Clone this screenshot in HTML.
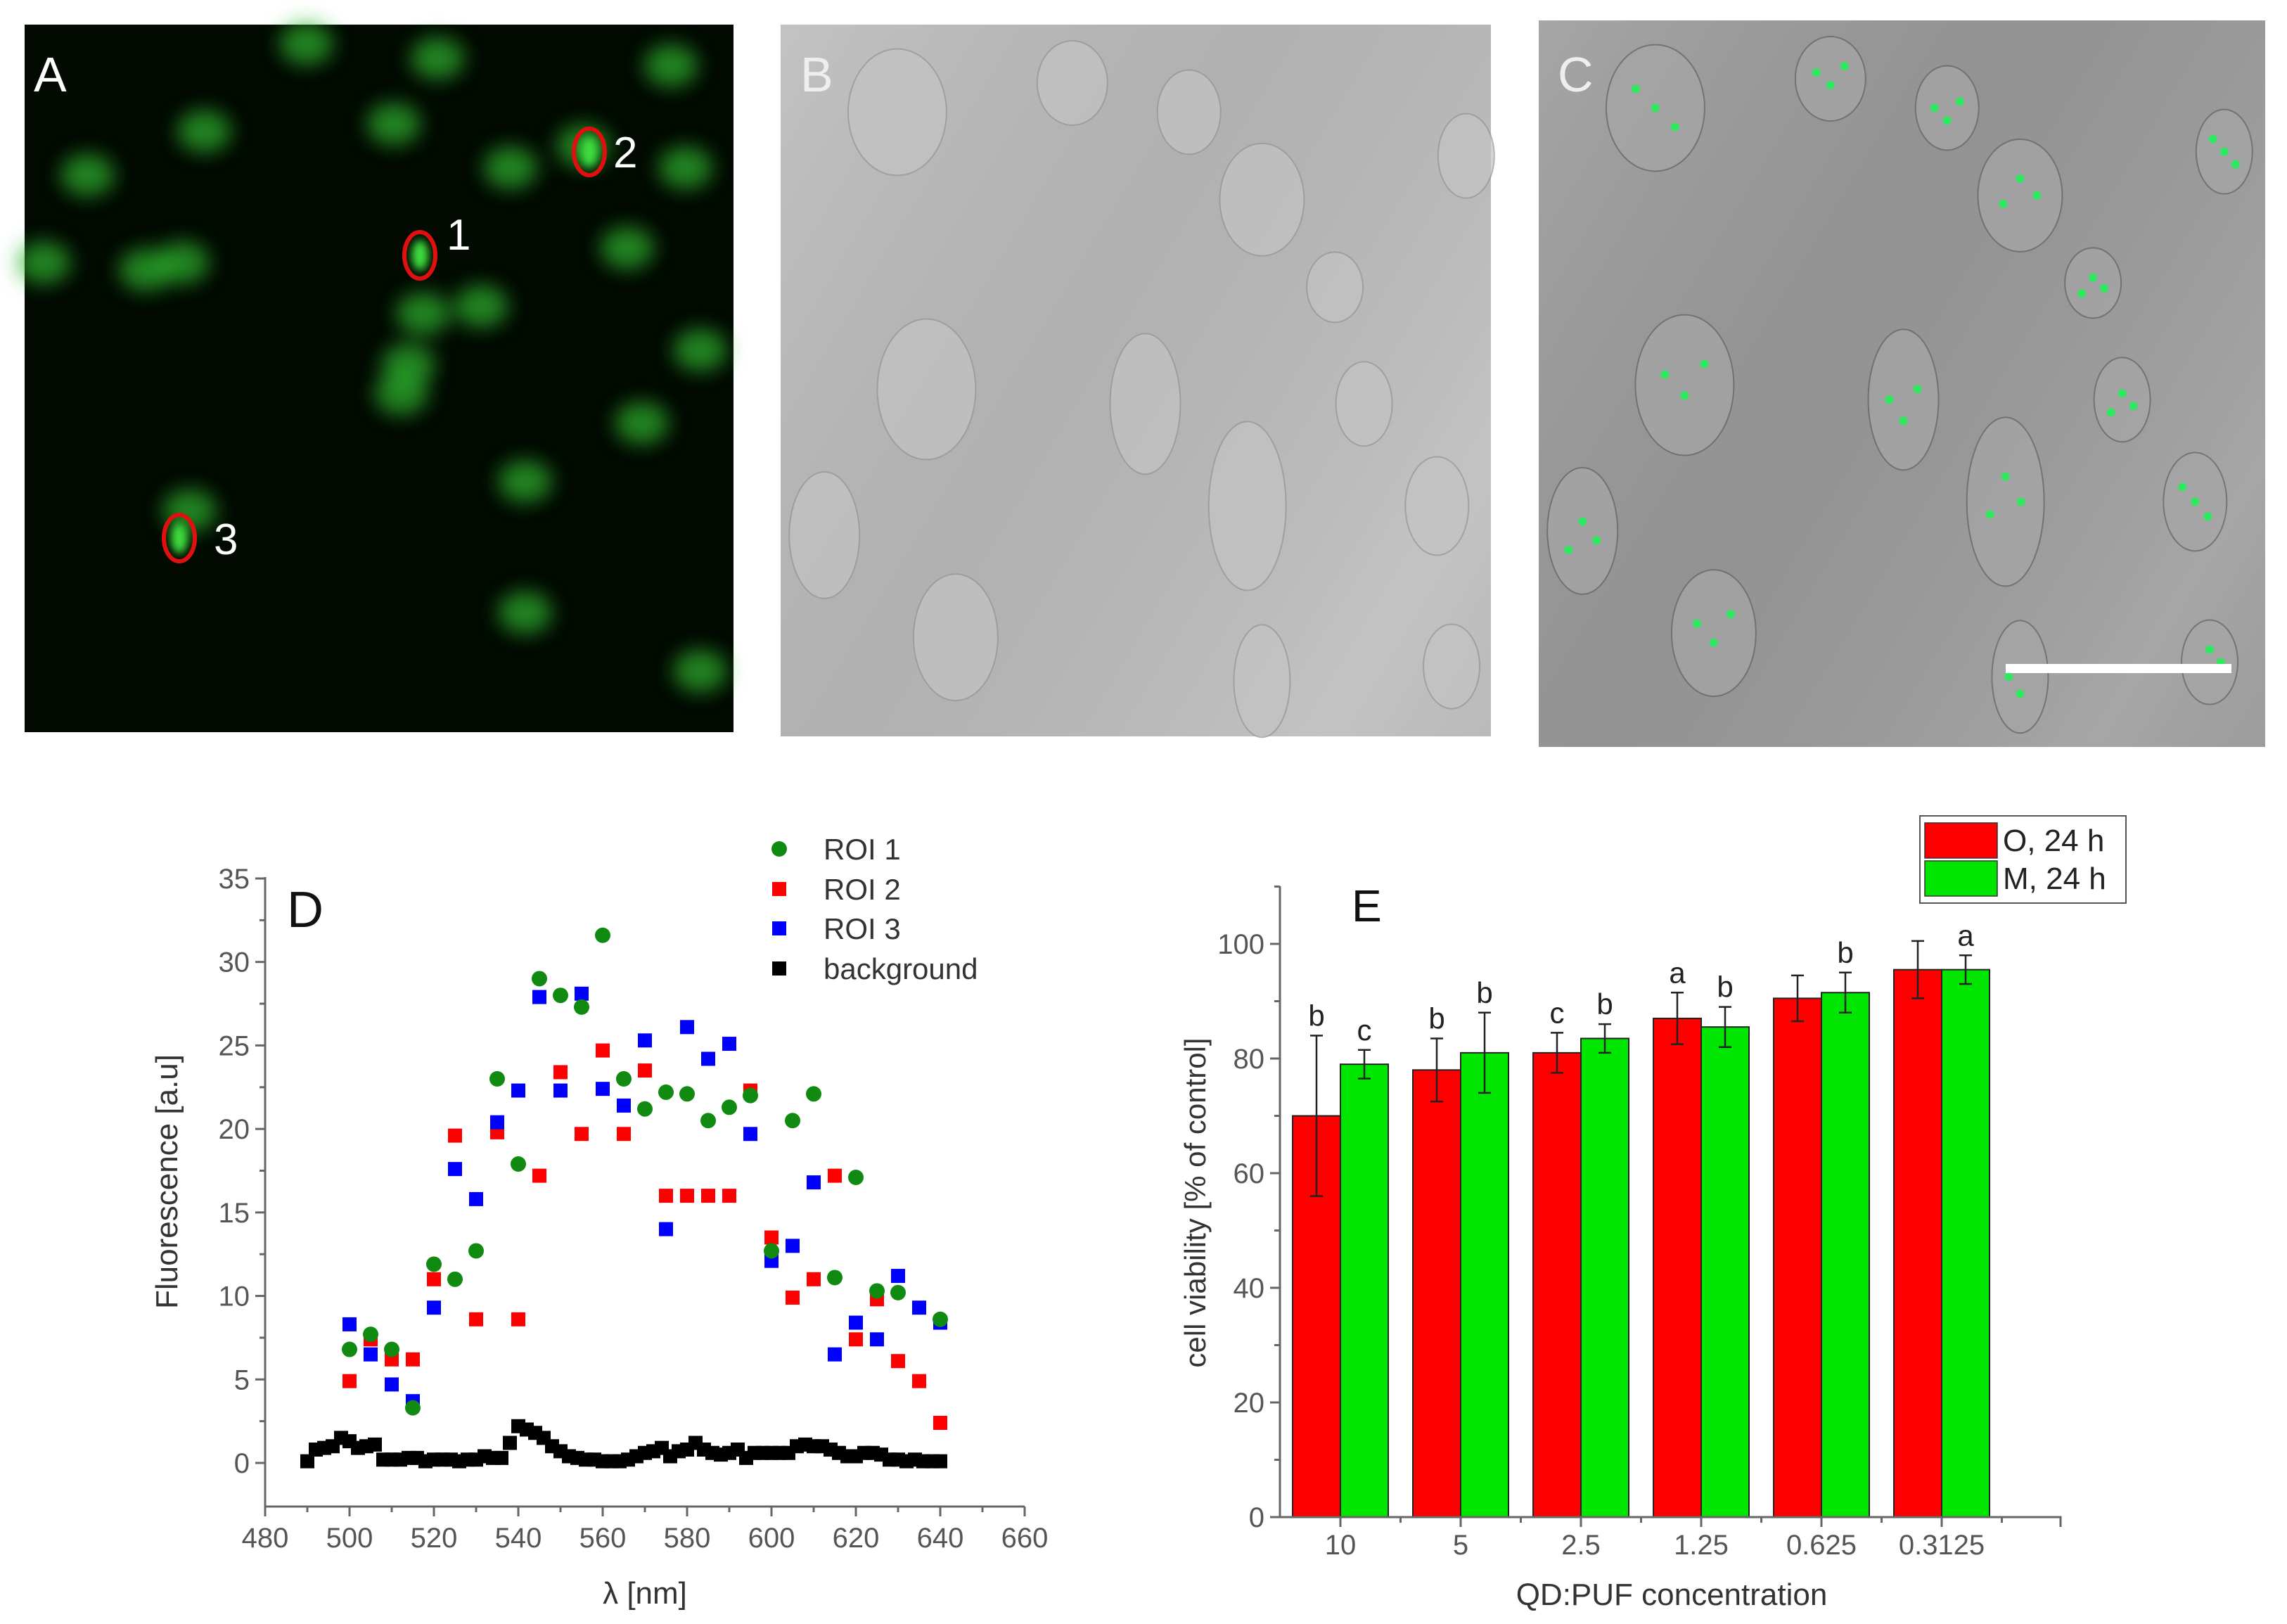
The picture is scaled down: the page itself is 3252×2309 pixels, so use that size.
<!DOCTYPE html>
<html><head><meta charset="utf-8"><style>
html,body{margin:0;padding:0;background:#fff}
svg{display:block}
text{font-family:"Liberation Sans",sans-serif}
</style></head><body>
<svg id="fig" width="3252" height="2309" viewBox="0 0 3252 2309" xmlns="http://www.w3.org/2000/svg">
<defs>
<filter id="blur" x="-50%" y="-50%" width="200%" height="200%"><feGaussianBlur stdDeviation="14"/></filter>
<filter id="blur2" x="-50%" y="-50%" width="200%" height="200%"><feGaussianBlur stdDeviation="6"/></filter>
<linearGradient id="stripes" x1="0" y1="0" x2="1" y2="0.6" spreadMethod="repeat">
<stop offset="0" stop-color="#fff" stop-opacity="0.10"/><stop offset="0.5" stop-color="#000" stop-opacity="0.06"/><stop offset="1" stop-color="#fff" stop-opacity="0.10"/></linearGradient>
</defs>
<g>
<rect x="35" y="35" width="1008" height="1006" fill="#020a02"/>
<g id="blobs" filter="url(#blur)"></g>
<g id="blobs2" filter="url(#blur2)"></g>
<text x="48" y="130" font-size="70" fill="#fff">A</text>
<ellipse cx="597" cy="363" rx="22" ry="33" fill="none" stroke="#e01010" stroke-width="6"/>
<ellipse cx="838" cy="216" rx="22" ry="33" fill="none" stroke="#e01010" stroke-width="6"/>
<ellipse cx="255" cy="765" rx="22" ry="33" fill="none" stroke="#e01010" stroke-width="6"/>
<text x="635" y="355" font-size="62" fill="#fff">1</text>
<text x="872" y="238" font-size="62" fill="#fff">2</text>
<text x="304" y="788" font-size="62" fill="#fff">3</text>
</g>
<g>
<rect x="1110" y="35" width="1010" height="1012" fill="#bcbcbc"/>
<rect x="1110" y="35" width="1010" height="1012" fill="url(#stripes)"/>
<g id="cellsB" fill="#c4c4c4" stroke="#959595" stroke-width="2" opacity="0.7"></g>
<text x="1138" y="130" font-size="70" fill="#eee">B</text>
</g>
<g>
<rect x="2188" y="29" width="1033" height="1033" fill="#9c9c9c"/>
<rect x="2188" y="29" width="1033" height="1033" fill="url(#stripes)"/>
<g id="cellsC" fill="#a6a6a6" stroke="#666" stroke-width="2" opacity="0.75"></g>
<g id="greenC" fill="#2ee860"></g>
<text x="2215" y="130" font-size="70" fill="#eee">C</text>
<rect x="2852" y="944" width="321" height="13" fill="#fff"/>
</g>
<g id="chartD"></g>
<g id="chartE"></g>
</svg>
<script>
const NS='http://www.w3.org/2000/svg';
function mk(tag,attrs,parent,txt){const e=document.createElementNS(NS,tag);for(const k in attrs)e.setAttribute(k,attrs[k]);if(txt!==undefined)e.textContent=txt;parent.appendChild(e);return e;}

const blobPts=[[140,90],[270,85],[350,115],[400,100],[460,45],[470,115],[30,180],[100,185],[125,180],[290,215],[330,210],[280,250],[275,270],[480,240],[430,170],[360,330],[440,290],[480,460],[360,420],[60,120],[210,30],[300,40],[130,350]];
const bg=document.getElementById('blobs');
blobPts.forEach(p=>{const c=mk('ellipse',{cx:p[0]*2.074,cy:p[1]*2.074,rx:38,ry:30,fill:'#2fb52f',opacity:0.7},bg);

});
const bg2=document.getElementById('blobs2');
[[288,175],[404,104],[123,369]].forEach(p=>{const c=mk('ellipse',{cx:p[0]*2.074,cy:p[1]*2.074,rx:12,ry:22,fill:'#3fe040'},bg2);

});
const cellPts=[[80,60,70,90],[200,40,50,60],[280,60,45,60],[330,120,60,80],[380,180,40,50],[470,90,40,60],[100,250,70,100],[250,260,50,100],[320,330,55,120],[400,260,40,60],[450,330,45,70],[120,420,60,90],[330,450,40,80],[460,440,40,60],[30,350,50,90]];
const cb=document.getElementById('cellsB'),cc=document.getElementById('cellsC'),gc=document.getElementById('greenC');
cellPts.forEach((p,i)=>{
 const b=mk('ellipse',{cx:1110+p[0]*2.074,cy:35+p[1]*2.074,rx:p[2],ry:p[3]},cb);
 
 
 const c=mk('ellipse',{cx:2188+p[0]*2.074,cy:29+p[1]*2.074,rx:p[2],ry:p[3]},cc);
 
 
 for(let k=0;k<3;k++){
  const g=mk('circle',{cx:2188+p[0]*2.074+(k-1)*p[2]*0.4,cy:29+p[1]*2.074+((k*7+i)%5-2)*p[3]*0.15,r:6},gc);
  
  
 }
});

// ---- Chart D data ----
const wl=[500,505,510,515,520,525,530,535,540,545,550,555,560,565,570,575,580,585,590,595,600,605,610,615,620,625,630,635,640];
const roi1=[6.8,7.7,6.8,3.3,11.9,11.0,12.7,23.0,17.9,29.0,28.0,27.3,31.6,23.0,21.2,22.2,22.1,20.5,21.3,22.0,12.7,20.5,22.1,11.1,17.1,10.3,10.2,null,8.6];
const roi2=[4.9,7.4,6.2,6.2,11.0,19.6,8.6,19.8,8.6,17.2,23.4,19.7,24.7,19.7,23.5,16.0,16.0,16.0,16.0,22.3,13.5,9.9,11.0,17.2,7.4,9.8,6.1,4.9,2.4];
const roi3=[8.3,6.5,4.7,3.7,9.3,17.6,15.8,20.4,22.3,27.9,22.3,28.1,22.4,21.4,25.3,14.0,26.1,24.2,25.1,19.7,12.1,13.0,16.8,6.5,8.4,7.4,11.2,9.3,8.4];
const bgWl=[490,492,494,496,498,500,502,504,506,508,510,512,514,516,518,520,522,524,526,528,530,532,534,536,538,540,542,544,546,548,550,552,554,556,558,560,562,564,566,568,570,572,574,576,578,580,582,584,586,588,590,592,594,596,598,600,602,604,606,608,610,612,614,616,618,620,622,624,626,628,630,632,634,636,638,640];
const bgVal=[0.1,0.8,0.9,1.0,1.5,1.3,0.9,1.0,1.1,0.2,0.2,0.2,0.3,0.3,0.1,0.2,0.2,0.2,0.1,0.2,0.2,0.4,0.3,0.3,1.2,2.2,2.0,1.8,1.5,1.0,0.7,0.4,0.3,0.2,0.2,0.1,0.1,0.1,0.2,0.4,0.6,0.7,0.9,0.4,0.7,0.8,1.2,0.8,0.6,0.5,0.6,0.8,0.3,0.6,0.6,0.6,0.6,0.6,1.0,1.1,1.0,1.0,0.8,0.6,0.4,0.4,0.6,0.6,0.5,0.2,0.2,0.1,0.2,0.1,0.1,0.1];
const dXTicks=[480,500,520,540,560,580,600,620,640,660];
const dYTicks=[0,5,10,15,20,25,30,35];
const dLegend=['ROI 1','ROI 2','ROI 3','background'];

(function(){
 const g=document.getElementById('chartD');
 const X0=377,X1=1457,Y35=1249,Y0=2080;
 const xs=v=>X0+(v-480)/180*(X1-X0);
 const ys=v=>Y0-(v/35)*(Y0-Y35);
 const yBot=2142;
 const ax=mk('path',{d:`M${X0},${Y35-2} V${yBot} H${X1}`,fill:'none',stroke:'#666','stroke-width':3},g);
 
 
 for(let v=480;v<=660;v+=10){const big=v%20===0;const t=mk('line',{x1:xs(v),x2:xs(v),y1:yBot,y2:yBot+(big?14:8),stroke:'#666','stroke-width':3},g);
  
  }
 dXTicks.forEach(v=>{const t=mk('text',{x:xs(v),y:2200,'font-size':40,fill:'#555','text-anchor':'middle'},g,String(v));
  
  });
 for(let v=0;v<=35;v+=2.5){const big=v%5===0;const t=mk('line',{x1:X0,x2:X0-(big?14:8),y1:ys(v),y2:ys(v),stroke:'#666','stroke-width':3},g);
  
  }
 dYTicks.forEach(v=>{const t=mk('text',{x:X0-22,y:ys(v)+14,'font-size':40,fill:'#555','text-anchor':'end'},g,String(v));
  
  });
 let t=mk('text',{x:917,y:2280,'font-size':44,fill:'#333','text-anchor':'middle'},g,'λ [nm]');
 
 
 t=mk('text',{x:0,y:0,'font-size':44,fill:'#333','text-anchor':'middle',transform:'translate(252,1680) rotate(-90)'},g,'Fluorescence [a.u]');
 
 
 t=mk('text',{x:408,y:1318,'font-size':72,fill:'#111'},g,'D');
 
 
 const sq=(x,y,col,name)=>{const r=mk('rect',{x:x-10,y:y-10,width:20,height:20,fill:col},g);
  
  };
 bgWl.forEach((w,i)=>sq(xs(w),ys(bgVal[i]),'#000','background-point'));
 wl.forEach((w,i)=>{ if(roi2[i]!=null) sq(xs(w),ys(roi2[i]),'#f00','roi2-point'); });
 wl.forEach((w,i)=>{ if(roi3[i]!=null) sq(xs(w),ys(roi3[i]),'#00f','roi3-point'); });
 wl.forEach((w,i)=>{ if(roi1[i]!=null){const c=mk('circle',{cx:xs(w),cy:ys(roi1[i]),r:11,fill:'#118a11'},g);
  
  } });
 const ly=[1207,1264,1320,1377],lc=['#118a11','#f00','#00f','#000'];
 dLegend.forEach((s,i)=>{
  if(i===0){const c=mk('circle',{cx:1108,cy:ly[i],r:11,fill:lc[i]},g);
   
   }
  else sq(1108,ly[i],lc[i],'legend-marker');
  const tt=mk('text',{x:1171,y:ly[i]+15,'font-size':42,fill:'#333'},g,s);
  
  
 });
})();

// ---- Chart E data ----
const conc=['10','5','2.5','1.25','0.625','0.3125'];
const redVal=[70,78,81,87,90.5,95.5];
const redErr=[14,5.5,3.5,4.5,4,5];
const greenVal=[79,81,83.5,85.5,91.5,95.5];
const greenErr=[2.5,7,2.5,3.5,3.5,2.5];
const redLetters=['b','b','c','a','',''];
const greenLetters=['c','b','b','b','b','a'];
const eYTicks=[0,20,40,60,80,100];

(function(){
 const g=document.getElementById('chartE');
 const X0=1820,X1=2930,Y0=2157,Y100=1342,Ytop=1260;
 const ys=v=>Y0-v/100*(Y0-Y100);
 const cx=i=>1906+171*i;
 const bw=68;
 conc.forEach((c,i)=>{
  [[redVal,redErr,redLetters,'#ff0000',-1,'bar-o-24h'],[greenVal,greenErr,greenLetters,'#00e600',0,'bar-m-24h']].forEach(s=>{
   const v=s[0][i],e=s[1][i],x=cx(i)+s[4]*bw;
   const r=mk('rect',{x:x,y:ys(v),width:bw,height:Y0-ys(v),fill:s[3],stroke:'#222','stroke-width':2},g);
   
   
   const mx=x+bw/2;
   const eb=mk('path',{d:`M${mx},${ys(v+e)} V${ys(v-e)} M${mx-9},${ys(v+e)} H${mx+9} M${mx-9},${ys(v-e)} H${mx+9}`,stroke:'#222','stroke-width':2.5,fill:'none'},g);
   
   
   if(s[2][i]){const t=mk('text',{x:mx,y:ys(v+e)-14,'font-size':42,fill:'#222','text-anchor':'middle'},g,s[2][i]);
    
    }
  });
  const tk=mk('line',{x1:cx(i),x2:cx(i),y1:Y0,y2:Y0+14,stroke:'#666','stroke-width':3},g);
  
  
  const mt=mk('line',{x1:cx(i)+85.5,x2:cx(i)+85.5,y1:Y0,y2:Y0+8,stroke:'#666','stroke-width':3},g);
  
  
  const t=mk('text',{x:cx(i),y:2210,'font-size':40,fill:'#555','text-anchor':'middle'},g,c);
  
  
 });
 const ax=mk('path',{d:`M${X0},${Ytop} V${Y0} H${X1} v14`,fill:'none',stroke:'#666','stroke-width':3},g);
 
 
 for(let v=0;v<=110;v+=10){const big=v%20===0;const t=mk('line',{x1:X0,x2:X0-(big?14:8),y1:ys(v),y2:ys(v),stroke:'#666','stroke-width':3},g);
  
  }
 eYTicks.forEach(v=>{const t=mk('text',{x:X0-22,y:ys(v)+14,'font-size':40,fill:'#555','text-anchor':'end'},g,String(v));
  
  });
 let t=mk('text',{x:2377,y:2282,'font-size':44,fill:'#333','text-anchor':'middle'},g,'QD:PUF concentration');
 
 
 t=mk('text',{x:0,y:0,'font-size':42,fill:'#333','text-anchor':'middle',transform:'translate(1714,1710) rotate(-90)'},g,'cell viability [% of control]');
 
 
 t=mk('text',{x:1922,y:1310,'font-size':64,fill:'#111'},g,'E');
 
 
 const lb=mk('rect',{x:2730,y:1160,width:293,height:124,fill:'#fff',stroke:'#555','stroke-width':2},g);
 
 
 [['#ff0000','O, 24 h',1170],['#00e600','M,  24 h',1224]].forEach(l=>{
  const r=mk('rect',{x:2737,y:l[2],width:103,height:50,fill:l[0],stroke:'#333','stroke-width':1.5},g);
  
  
  const tt=mk('text',{x:2848,y:l[2]+40,'font-size':44,fill:'#222'},g,l[1]);
  
  
 });
})();
</script>
</body></html>
